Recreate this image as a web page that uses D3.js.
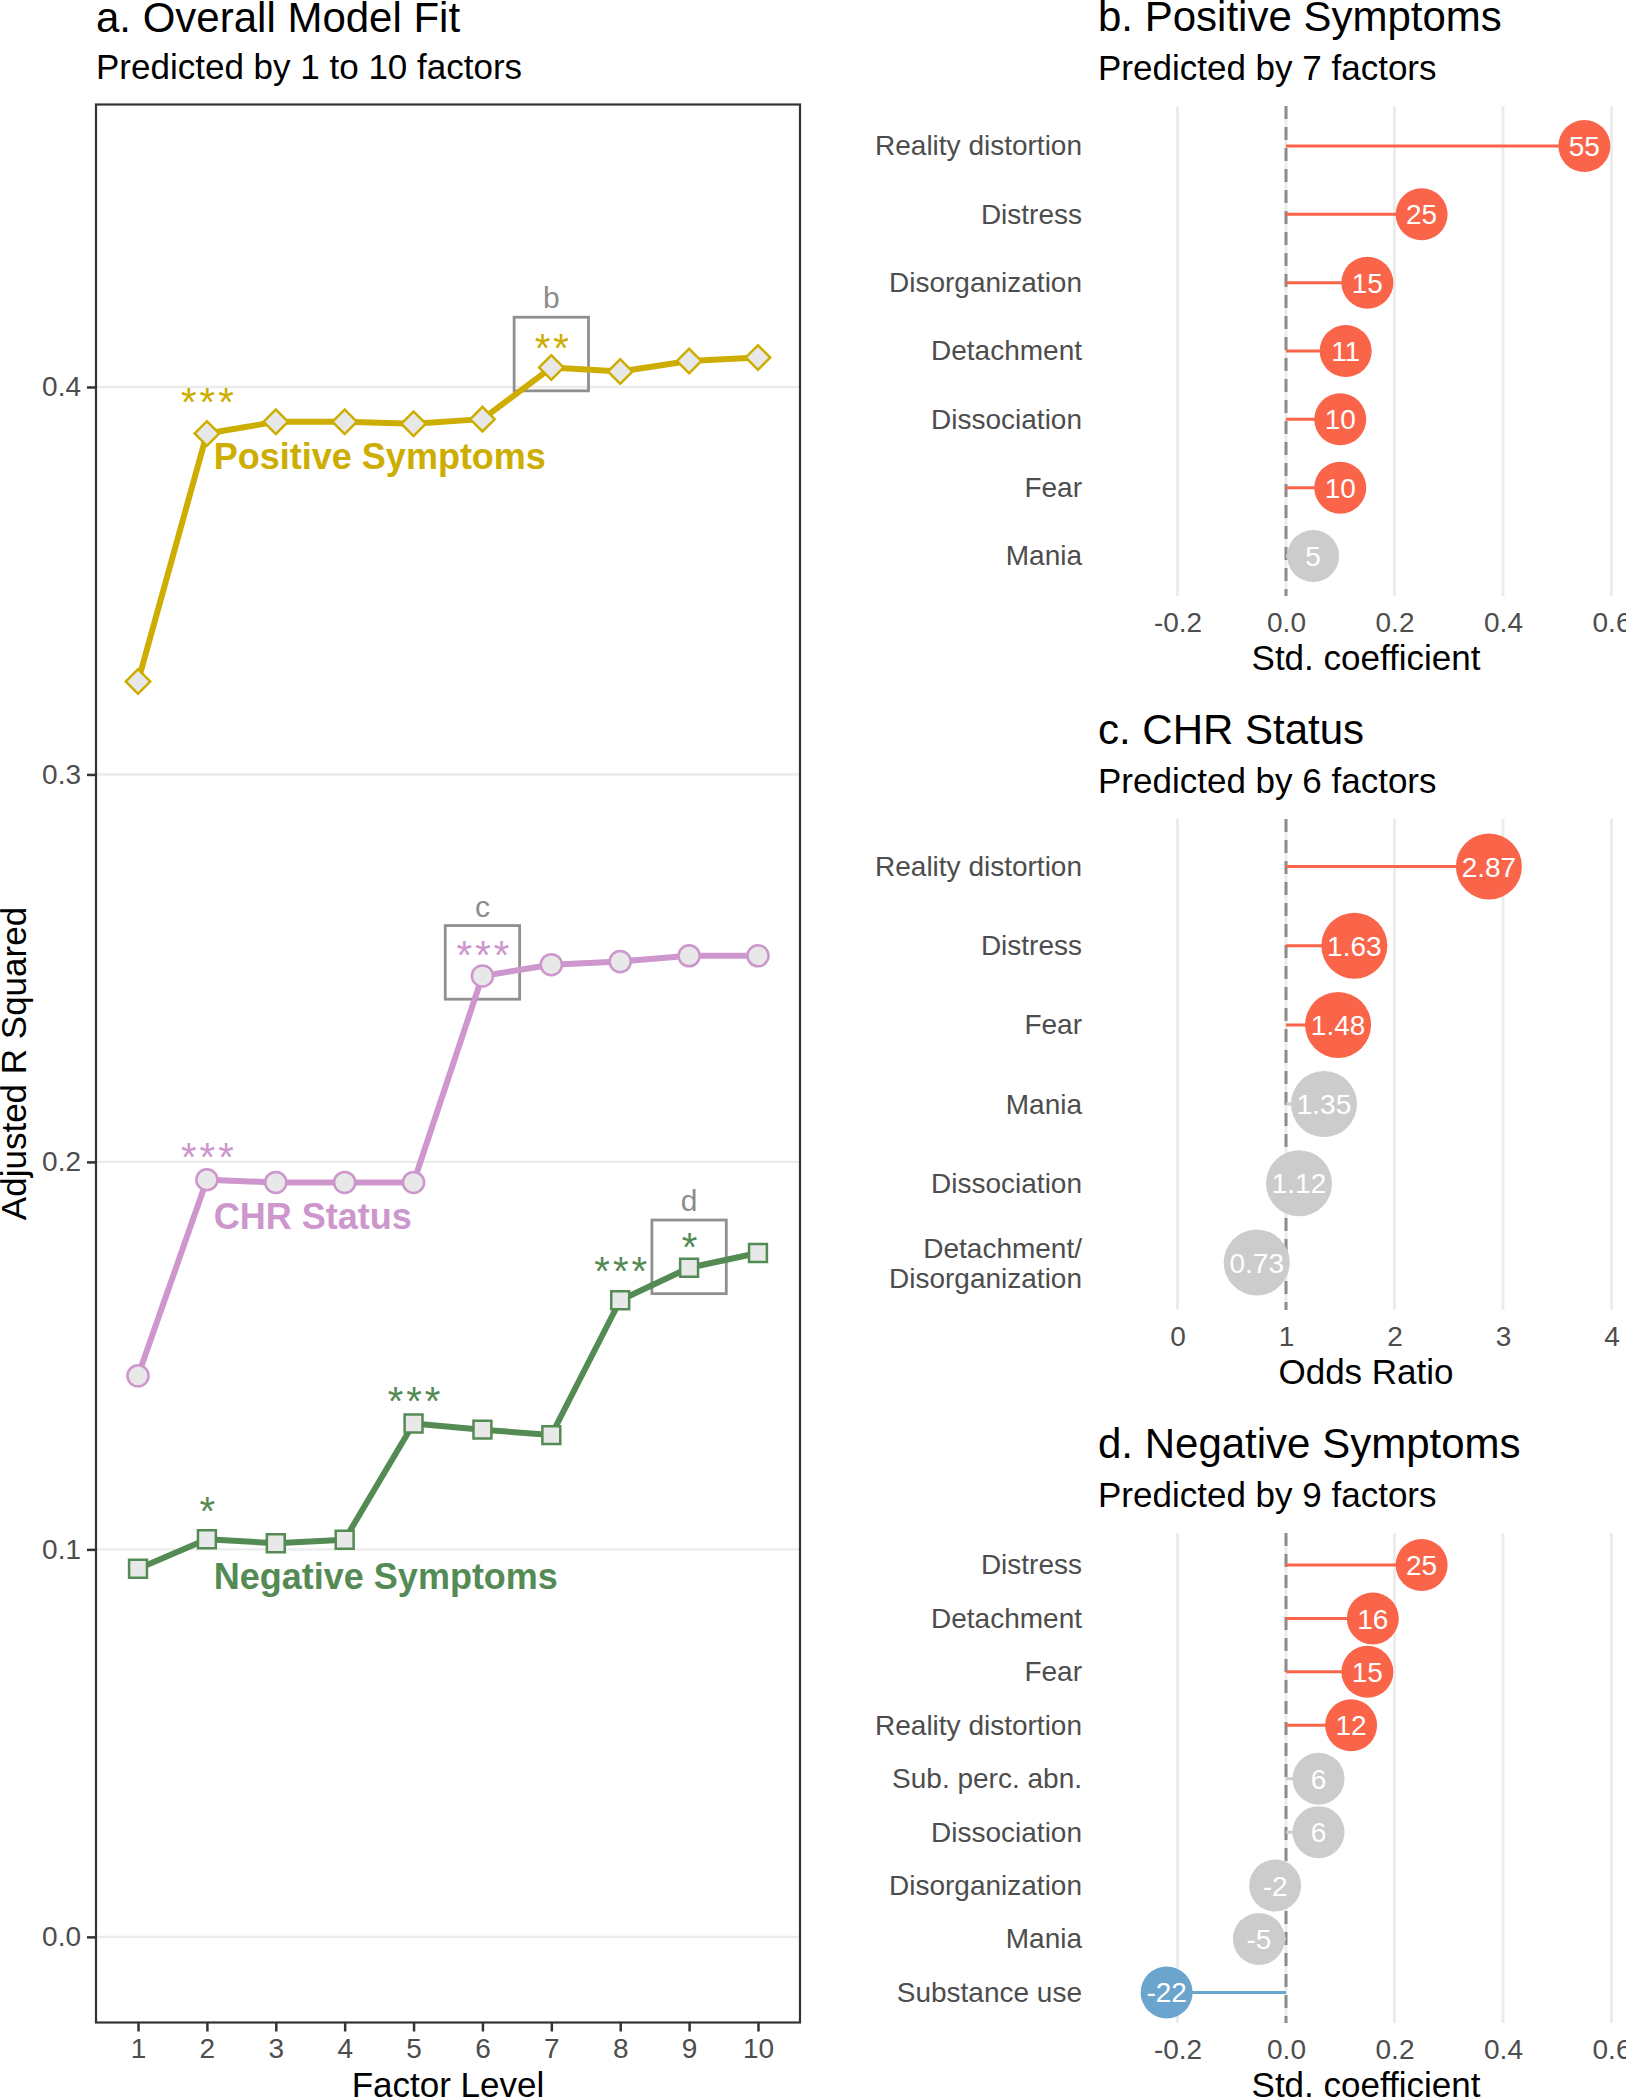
<!DOCTYPE html>
<html>
<head>
<meta charset="utf-8">
<script src="https://cdn.jsdelivr.net/npm/d3@7"></script>
<style>
  body { margin: 0; background: #fff; }
  text { font-family: "Liberation Sans", Arial, Helvetica, sans-serif; }
</style>
</head>
<body>
<div id="chart"></div>
<script>
// ---- panel a: adjusted R squared by factor level ----
const factorLevels = [1, 2, 3, 4, 5, 6, 7, 8, 9, 10];
const r2Ticks = [0.0, 0.1, 0.2, 0.3, 0.4];
const positiveR2 = [0.324, 0.388, 0.391, 0.391, 0.3905, 0.3917, 0.405, 0.404, 0.4067, 0.4076];
const chrR2 = [0.1448, 0.1954, 0.1947, 0.1947, 0.1947, 0.248, 0.2509, 0.2517, 0.2532, 0.2532];
const negativeR2 = [0.095, 0.1026, 0.1016, 0.1025, 0.1325, 0.1309, 0.1295, 0.1643, 0.1727, 0.1765];

// significance marks (level, height of the mark, stars)
const positiveStars = [{level: 2, y: 0.3985, mark: "***"}, {level: 7, y: 0.4124, mark: "**"}];
const chrStars = [{level: 2, y: 0.2035, mark: "***"}, {level: 6, y: 0.2556, mark: "***"}];
const negativeStars = [
  {level: 2, y: 0.1121, mark: "*"}, {level: 5, y: 0.1405, mark: "***"},
  {level: 8, y: 0.1741, mark: "***"}, {level: 9, y: 0.1802, mark: "*"}
];
const seriesNames = ["Positive Symptoms", "CHR Status", "Negative Symptoms"];
const seriesLabelY = [0.382, 0.186, 0.093];

// highlighted models that get their own panel
const boxTags = ["b", "c", "d"];
const boxLevels = [7, 6, 9];
const boxLow = [0.399, 0.242, 0.166];
const boxHigh = [0.418, 0.261, 0.185];

// ---- panel b: positive symptoms ----
const posCats = ["Reality distortion", "Distress", "Disorganization", "Detachment", "Dissociation", "Fear", "Mania"];
const posCoef = [0.55, 0.25, 0.15, 0.11, 0.10, 0.10, 0.05];
const posSig = ["pos", "pos", "pos", "pos", "pos", "pos", "ns"];

// ---- panel c: CHR status ----
const chrCats = ["Reality distortion", "Distress", "Fear", "Mania", "Dissociation", "Detachment/\nDisorganization"];
const chrOdds = [2.87, 1.63, 1.48, 1.35, 1.12, 0.73];
const chrSig = ["pos", "pos", "pos", "ns", "ns", "ns"];

// ---- panel d: negative symptoms ----
const negCats = ["Distress", "Detachment", "Fear", "Reality distortion", "Sub. perc. abn.", "Dissociation", "Disorganization", "Mania", "Substance use"];
const negCoef = [0.25, 0.16, 0.15, 0.12, 0.06, 0.06, -0.02, -0.05, -0.22];
const negSig = ["pos", "pos", "pos", "pos", "ns", "ns", "ns", "ns", "neg"];

const coefTicks = [-0.2, 0.0, 0.2, 0.4, 0.6];
const oddsTicks = [0, 1, 2, 3, 4];

const sigColors = {pos: "#FA6449", neg: "#6BA5CE", ns: "#CCCCCC"};
const seriesColors = ["#CDAD00", "#CD96CD", "#548B54"];
const textGrey = "#4D4D4D";
const tickFont = 28;

const svg = d3.select("#chart").append("svg")
  .attr("width", 1626)
  .attr("height", 2100)
  .style("background", "#fff");

// ================= panel a =================
const A = {left: 96, right: 800, top: 104.5, bottom: 2022.5};
const xA = d3.scaleLinear().domain([0.39, 10.61]).range([A.left, A.right]);
const yA = d3.scaleLinear().domain([-0.0221, 0.4729]).range([A.bottom, A.top]);
const gA = svg.append("g");

gA.append("text").attr("x", A.left).attr("y", 32).attr("font-size", 42).text("a. Overall Model Fit");
gA.append("text").attr("x", A.left).attr("y", 79).attr("font-size", 35).text("Predicted by 1 to 10 factors");

gA.append("g").selectAll("line").data(r2Ticks).join("line")
  .attr("x1", A.left).attr("x2", A.right)
  .attr("y1", d => yA(d)).attr("y2", d => yA(d))
  .attr("stroke", "#EBEBEB").attr("stroke-width", 2.4);

// highlight boxes
boxTags.forEach((tag, i) => {
  gA.append("rect")
    .attr("x", xA(boxLevels[i] - 0.54))
    .attr("y", yA(boxHigh[i]))
    .attr("width", xA(boxLevels[i] + 0.54) - xA(boxLevels[i] - 0.54))
    .attr("height", yA(boxLow[i]) - yA(boxHigh[i]))
    .attr("fill", "none").attr("stroke", "#909090").attr("stroke-width", 2.8);
  gA.append("text")
    .attr("x", xA(boxLevels[i])).attr("y", yA(boxHigh[i]) - 9)
    .attr("text-anchor", "middle").attr("font-size", 30).attr("fill", "#8C8C8C")
    .text(tag);
});

const allSeries = [positiveR2, chrR2, negativeR2];
const allStars = [positiveStars, chrStars, negativeStars];
const shapes = [
  d3.symbol(d3.symbolSquare, 300),
  d3.symbol(d3.symbolCircle, 350),
  d3.symbol(d3.symbolSquare, 320)
];
const line = d3.line().x((d, i) => xA(factorLevels[i])).y(d => yA(d));

allSeries.forEach((vals, s) => {
  const col = seriesColors[s];
  gA.append("path").datum(vals)
    .attr("d", line).attr("fill", "none")
    .attr("stroke", col).attr("stroke-width", 6).attr("stroke-linejoin", "round");
  gA.append("g").selectAll("path").data(vals).join("path")
    .attr("d", shapes[s])
    .attr("transform", (d, i) => `translate(${xA(factorLevels[i])},${yA(d)})` + (s === 0 ? " rotate(45)" : ""))
    .attr("fill", "#E8E8E8").attr("stroke", col).attr("stroke-width", 2.5);
  gA.append("g").selectAll("text").data(allStars[s]).join("text")
    .attr("x", d => xA(d.level) + 2).attr("y", d => yA(d.y)).attr("dy", "0.57em")
    .attr("text-anchor", "middle").attr("font-size", 40).attr("letter-spacing", 3)
    .attr("fill", col).text(d => d.mark);
  gA.append("text")
    .attr("x", xA(2.1)).attr("y", yA(seriesLabelY[s])).attr("dy", "0.35em")
    .attr("font-size", 36).attr("font-weight", "bold").attr("fill", col)
    .text(seriesNames[s]);
});

gA.append("rect")
  .attr("x", A.left).attr("y", A.top)
  .attr("width", A.right - A.left).attr("height", A.bottom - A.top)
  .attr("fill", "none").attr("stroke", "#333").attr("stroke-width", 2.2);

const axisY = gA.append("g").attr("transform", `translate(${A.left},0)`)
  .call(d3.axisLeft(yA).tickValues(r2Ticks).tickFormat(d3.format(".1f")).tickSize(9).tickPadding(6));
const axisX = gA.append("g").attr("transform", `translate(0,${A.bottom})`)
  .call(d3.axisBottom(xA).tickValues(factorLevels).tickFormat(d3.format("d")).tickSize(9).tickPadding(7));
[axisY, axisX].forEach(ax => {
  ax.select(".domain").remove();
  ax.selectAll(".tick line").attr("stroke", "#333").attr("stroke-width", 2.5);
  ax.selectAll(".tick text").attr("fill", textGrey).attr("font-size", tickFont)
    .style("font-family", "'Liberation Sans', Arial, sans-serif");
});

gA.append("text")
  .attr("transform", `translate(26,${(A.top + A.bottom) / 2}) rotate(-90)`)
  .attr("text-anchor", "middle").attr("font-size", 35).text("Adjusted R Squared");
gA.append("text")
  .attr("x", (A.left + A.right) / 2).attr("y", 2097)
  .attr("text-anchor", "middle").attr("font-size", 35).text("Factor Level");

// ================= lollipop panels =================
function lollipop(cfg) {
  const g = svg.append("g");
  const x = d3.scaleLinear().domain(cfg.domain).range([1177.5, 1611.5]);
  const y = d3.scalePoint().domain(cfg.cats).range([cfg.first, cfg.last]);
  const rows = cfg.cats.map((c, i) => ({cat: c, v: cfg.values[i], sig: cfg.sig[i]}));

  g.append("text").attr("x", 1098).attr("y", cfg.top - 75).attr("font-size", 42).text(cfg.title);
  g.append("text").attr("x", 1098).attr("y", cfg.top - 26).attr("font-size", 35).text(cfg.subtitle);

  g.append("g").selectAll("line").data(cfg.ticks).join("line")
    .attr("x1", d => x(d)).attr("x2", d => x(d))
    .attr("y1", cfg.top).attr("y2", cfg.bottom)
    .attr("stroke", "#EBEBEB").attr("stroke-width", 2.8);

  g.append("line")
    .attr("x1", x(cfg.ref)).attr("x2", x(cfg.ref))
    .attr("y1", cfg.top).attr("y2", cfg.bottom)
    .attr("stroke", "#8C8C8C").attr("stroke-width", 3).attr("stroke-dasharray", "13,8");

  g.append("g").selectAll("line").data(rows).join("line")
    .attr("x1", x(cfg.ref)).attr("x2", d => x(d.v))
    .attr("y1", d => y(d.cat)).attr("y2", d => y(d.cat))
    .attr("stroke", d => sigColors[d.sig]).attr("stroke-width", 3);

  g.append("g").selectAll("circle").data(rows).join("circle")
    .attr("cx", d => x(d.v)).attr("cy", d => y(d.cat)).attr("r", cfg.radius)
    .attr("fill", d => sigColors[d.sig]);

  g.append("g").selectAll("text").data(rows).join("text")
    .attr("x", d => x(d.v)).attr("y", d => y(d.cat)).attr("dy", "0.36em")
    .attr("text-anchor", "middle").attr("font-size", 28).attr("fill", "#fff")
    .text(d => cfg.label(d.v));

  const ay = g.append("g").attr("transform", "translate(1090,0)")
    .call(d3.axisLeft(y).tickSize(0).tickPadding(8));
  ay.select(".domain").remove();
  ay.selectAll(".tick text").attr("fill", textGrey).attr("font-size", 28)
    .style("font-family", "'Liberation Sans', Arial, sans-serif")
    .each(function(d) {
      const parts = d.split("\n");
      if (parts.length > 1) {
        const t = d3.select(this).text(null).attr("dy", null);
        parts.forEach((p, k) => {
          t.append("tspan").attr("x", -8)
            .attr("y", (k - (parts.length - 1) / 2) * 30)
            .attr("dy", "0.35em").text(p);
        });
      }
    });

  const ax = g.append("g").attr("transform", `translate(0,${cfg.bottom})`)
    .call(d3.axisBottom(x).tickValues(cfg.ticks).tickFormat(cfg.tickFormat).tickSize(0).tickPadding(16));
  ax.select(".domain").remove();
  ax.selectAll(".tick text").attr("fill", textGrey).attr("font-size", tickFont)
    .style("font-family", "'Liberation Sans', Arial, sans-serif");

  g.append("text").attr("x", 1366).attr("y", cfg.bottom + 74)
    .attr("text-anchor", "middle").attr("font-size", 35).text(cfg.axisTitle);
}

const pctLabel = v => String(Math.round(v * 100));
const coefFormat = d => d.toFixed(1);

lollipop({
  title: "b. Positive Symptoms", subtitle: "Predicted by 7 factors", axisTitle: "Std. coefficient",
  cats: posCats, values: posCoef, sig: posSig, domain: [-0.2, 0.6], ticks: coefTicks, ref: 0,
  tickFormat: coefFormat, label: pctLabel, radius: 26,
  top: 106, bottom: 596, first: 146, last: 556
});
lollipop({
  title: "c. CHR Status", subtitle: "Predicted by 6 factors", axisTitle: "Odds Ratio",
  cats: chrCats, values: chrOdds, sig: chrSig, domain: [0, 4], ticks: oddsTicks, ref: 1,
  tickFormat: d => String(d), label: v => v.toFixed(2), radius: 33,
  top: 819, bottom: 1310, first: 866.5, last: 1262.5
});
lollipop({
  title: "d. Negative Symptoms", subtitle: "Predicted by 9 factors", axisTitle: "Std. coefficient",
  cats: negCats, values: negCoef, sig: negSig, domain: [-0.2, 0.6], ticks: coefTicks, ref: 0,
  tickFormat: coefFormat, label: pctLabel, radius: 26,
  top: 1533, bottom: 2023, first: 1565, last: 1992.4
});
</script>
</body>
</html>
